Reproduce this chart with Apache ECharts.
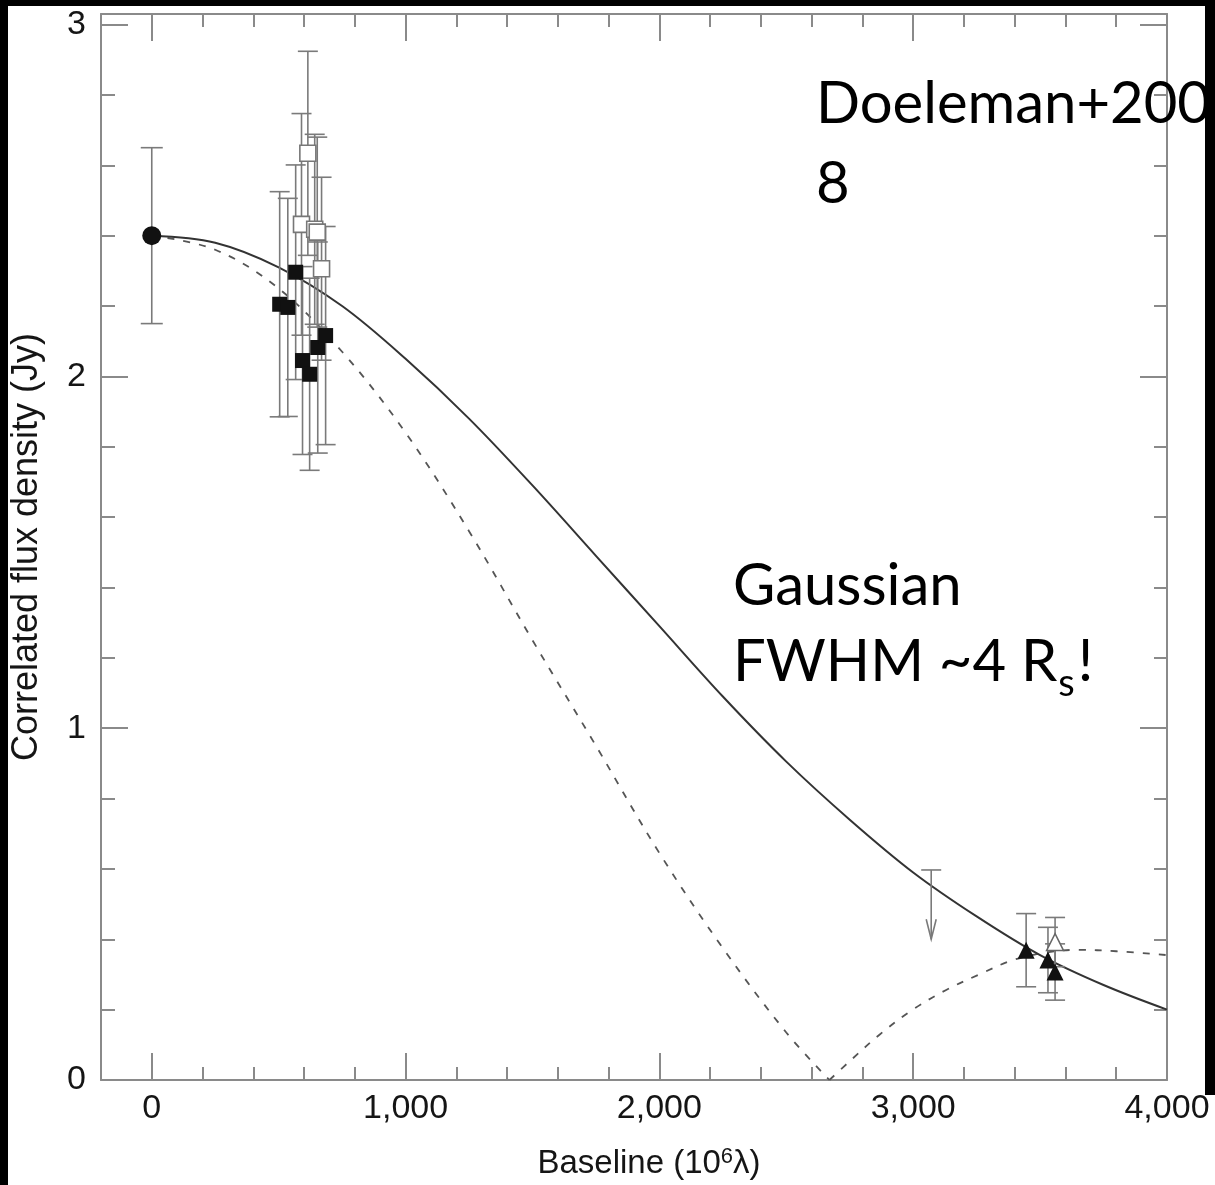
<!DOCTYPE html>
<html><head><meta charset="utf-8">
<script src="https://cdn.jsdelivr.net/npm/echarts@6/dist/echarts.min.js"></script>
<style>html,body{margin:0;padding:0;background:#fff;overflow:hidden}#c{width:1215px;height:1185px}</style>
</head><body><div id="c"></div>
<script>
// ---- tick values ----
const xMajor = [0, 1000, 2000, 3000, 4000];
const xMinor = [200, 400, 600, 800, 1200, 1400, 1600, 1800, 2200, 2400, 2600, 2800, 3200, 3400, 3600, 3800];
const yMajor = [0, 1, 2, 3];
const yMinor = [0.2, 0.4, 0.6, 0.8, 1.2, 1.4, 1.6, 1.8, 2.2, 2.4, 2.6, 2.8];

// ---- measurements: [baseline (10^6 lambda), flux (Jy), error] ----
const circlePts = [[0, 2.40, 0.25]];
const filledSquarePts = [[504, 2.205, 0.32], [536, 2.196, 0.31], [567, 2.296, 0.305], [594, 2.045, 0.267],
  [622, 2.006, 0.273], [654, 2.082, 0.30], [685, 2.116, 0.31]];
const openSquarePts = [[590, 2.432, 0.315], [615, 2.634, 0.29], [642, 2.418, 0.27], [652, 2.41, 0.27], [669, 2.306, 0.26]];
const filledTrianglePts = [[3445, 0.369, 0.104], [3531, 0.341, 0.093], [3559, 0.307, 0.08]];
const openTrianglePts = [[3559, 0.392, 0.07]];
// upper limit: [baseline, limit value, arrow tip]
const upperLimitPts = [[3071, 0.597, 0.40]];

// ---- model curves ----
const gaussX = [0, 250, 500, 750, 1000, 1250, 1500, 1750, 2000, 2250, 2500, 2750, 3000, 3250, 3500, 3750, 4000];
const gaussY = [2.40, 2.38, 2.31, 2.20, 2.05, 1.88, 1.69, 1.49, 1.29, 1.09, 0.905, 0.74, 0.59, 0.465, 0.355, 0.27, 0.20];
const ringX1 = [0, 250, 500, 750, 1000, 1250, 1500, 1750, 2000, 2250, 2500, 2670];
const ringY1 = [2.40, 2.36, 2.25, 2.07, 1.84, 1.56, 1.25, 0.95, 0.645, 0.375, 0.135, 0.0];
const ringX2 = [2670, 2760, 2866, 2996, 3130, 3260, 3390, 3520, 3650, 3800, 4000];
const ringY2 = [0.0, 0.06, 0.128, 0.199, 0.256, 0.30, 0.34, 0.362, 0.37, 0.366, 0.355];

const zip = (a, b) => a.map((v, i) => [v, b[i]]);
const gray = '#8a8a8a';
const axLine = { color: gray, width: 2 };
const tickFont = 'Liberation Sans';
const txt = '#151515';

function xAx(pos, ticks, len, showLine, showLabel) {
  return {
    type: 'value', min: -200, max: 4000, position: pos,
    axisLine: { show: showLine, onZero: false, lineStyle: axLine },
    axisTick: { show: true, inside: true, length: len, customValues: ticks, lineStyle: axLine },
    axisLabel: showLabel ? { customValues: ticks, formatter: v => v.toLocaleString('en-US'),
      fontSize: 34, fontFamily: tickFont, color: txt, margin: 12 } : { show: false },
    splitLine: { show: false }
  };
}
function yAx(pos, ticks, len, showLine, showLabel) {
  return {
    type: 'value', min: 0, max: 3.03, position: pos,
    axisLine: { show: showLine, onZero: false, lineStyle: axLine },
    axisTick: { show: true, inside: true, length: len, customValues: ticks, lineStyle: axLine },
    axisLabel: showLabel ? { customValues: ticks, fontSize: 34, fontFamily: tickFont, color: txt, margin: 15 } : { show: false },
    splitLine: { show: false }
  };
}

const xAxes = [
  xAx('bottom', xMajor, 27, true, true),
  xAx('bottom', xMinor, 13, false, false),
  xAx('top', xMajor, 27, true, false),
  xAx('top', xMinor, 13, false, false)
];
Object.assign(xAxes[0], {
  name: 'Baseline (10{sup|6}λ)', nameLocation: 'middle', nameGap: 66,
  nameTextStyle: { fontSize: 33, fontFamily: tickFont, color: txt, padding: [0, 0, 0, 30],
    rich: { sup: { fontSize: 22, fontFamily: tickFont, color: txt, verticalAlign: 'bottom', padding: [0, 0, 14, 0] } } }
});
const yAxes = [
  yAx('left', yMajor, 27, true, true),
  yAx('left', yMinor, 14, false, false),
  yAx('right', yMajor, 27, true, false),
  yAx('right', yMinor, 13, false, false)
];
Object.assign(yAxes[0], {
  name: 'Correlated flux density (Jy)', nameLocation: 'middle', nameGap: 56, nameRotate: 90,
  nameTextStyle: { fontSize: 36, fontFamily: tickFont, color: txt }
});

const errStyle = { stroke: '#7a7a7a', lineWidth: 1.6 };
function errBars(cap) {
  return function (params, api) {
    const x = api.value(0), y = api.value(1), e = api.value(2);
    const t = api.coord([x, y + e]), b = api.coord([x, y - e]);
    return { type: 'group', children: [
      { type: 'line', shape: { x1: t[0], y1: t[1], x2: b[0], y2: b[1] }, style: errStyle },
      { type: 'line', shape: { x1: t[0] - cap, y1: t[1], x2: t[0] + cap, y2: t[1] }, style: errStyle },
      { type: 'line', shape: { x1: b[0] - cap, y1: b[1], x2: b[0] + cap, y2: b[1] }, style: errStyle }
    ] };
  };
}
function errSeries(data, cap) {
  return { type: 'custom', data: data, renderItem: errBars(cap), encode: { x: 0, y: 1 }, z: 3, silent: true };
}

const option = {
  animation: false,
  backgroundColor: '#ffffff',
  grid: { left: 101, right: 48, top: 14, bottom: 105, containLabel: false, outerBoundsMode: 'none' },
  xAxis: xAxes,
  yAxis: yAxes,
  series: [
    { type: 'line', data: zip(ringX1, ringY1), smooth: 0.35, showSymbol: false, z: 2,
      lineStyle: { color: '#555', width: 1.8, type: [7, 9] } },
    { type: 'line', data: zip(ringX2, ringY2), smooth: 0.35, showSymbol: false, z: 2,
      lineStyle: { color: '#555', width: 1.8, type: [7, 9] } },
    { type: 'line', data: zip(gaussX, gaussY), smooth: 0.35, showSymbol: false, z: 2,
      lineStyle: { color: '#333', width: 2 } },
    errSeries(circlePts, 11),
    errSeries(filledSquarePts, 10),
    errSeries(openSquarePts, 10),
    errSeries(filledTrianglePts, 10),
    errSeries(openTrianglePts, 10),
    { type: 'custom', data: upperLimitPts, encode: { x: 0, y: 1 }, z: 3, silent: true,
      renderItem: function (params, api) {
        const x = api.value(0);
        const p1 = api.coord([x, api.value(1)]), p2 = api.coord([x, api.value(2)]);
        return { type: 'group', children: [
          { type: 'line', shape: { x1: p1[0], y1: p1[1], x2: p2[0], y2: p2[1] }, style: errStyle },
          { type: 'line', shape: { x1: p1[0] - 10, y1: p1[1], x2: p1[0] + 10, y2: p1[1] }, style: errStyle },
          { type: 'polyline', shape: { points: [[p2[0] - 5, p2[1] - 20], [p2[0], p2[1]], [p2[0] + 5, p2[1] - 20]] },
            style: { stroke: '#7a7a7a', lineWidth: 1.6, fill: null } }
        ] };
      } },
    { type: 'scatter', data: openSquarePts, symbol: 'rect', symbolSize: 16, z: 4,
      itemStyle: { color: '#ffffff', borderColor: '#777', borderWidth: 1.6, opacity: 1 } },
    { type: 'scatter', data: filledSquarePts, symbol: 'rect', symbolSize: 15, z: 5,
      itemStyle: { color: '#111', opacity: 1 } },
    { type: 'scatter', data: circlePts, symbol: 'circle', symbolSize: 19, z: 5,
      itemStyle: { color: '#111', opacity: 1 } },
    { type: 'scatter', data: openTrianglePts, symbol: 'triangle', symbolSize: 17, z: 4,
      itemStyle: { color: '#ffffff', borderColor: '#666', borderWidth: 1.5, opacity: 1 } },
    { type: 'scatter', data: filledTrianglePts, symbol: 'triangle', symbolSize: 17, z: 5,
      itemStyle: { color: '#111', opacity: 1 } }
  ],
  graphic: []
};

const chart = echarts.init(document.getElementById('c'), null, { renderer: 'canvas' });
chart.setOption(option);

// annotation text (slide overlay)
const annFont = 'Lato';
const annSize = 58;
const mctx = document.createElement('canvas').getContext('2d');
mctx.font = annSize + 'px ' + annFont;
const wR = mctx.measureText('FWHM ~4 R').width;
mctx.font = '38px ' + annFont;
const wS = mctx.measureText('s').width;
const tStyle = (t, size) => ({ text: t, fill: '#000', font: size + 'px ' + annFont, verticalAlign: 'middle', align: 'left' });
chart.setOption({ graphic: [
  { type: 'text', x: 816, y: 104, z: 50, style: tStyle('Doeleman+200', annSize) },
  { type: 'text', x: 816, y: 184, z: 50, style: tStyle('8', annSize) },
  { type: 'text', x: 733, y: 586, z: 50, style: tStyle('Gaussian', annSize) },
  { type: 'text', x: 733, y: 662, z: 50, style: tStyle('FWHM ~4 R', annSize) },
  { type: 'text', x: 733 + wR + 1, y: 684, z: 50, style: tStyle('s', 38) },
  { type: 'text', x: 733 + wR + wS + 4, y: 662, z: 50, style: tStyle('!', annSize) },
  { type: 'rect', shape: { x: 0, y: 0, width: 1215, height: 6 }, style: { fill: '#000' }, z: 100 },
  { type: 'rect', shape: { x: 0, y: 0, width: 8, height: 1185 }, style: { fill: '#000' }, z: 100 },
  { type: 'rect', shape: { x: 1205, y: 0, width: 10, height: 1095 }, style: { fill: '#000' }, z: 100 }
] });
</script></body></html>
